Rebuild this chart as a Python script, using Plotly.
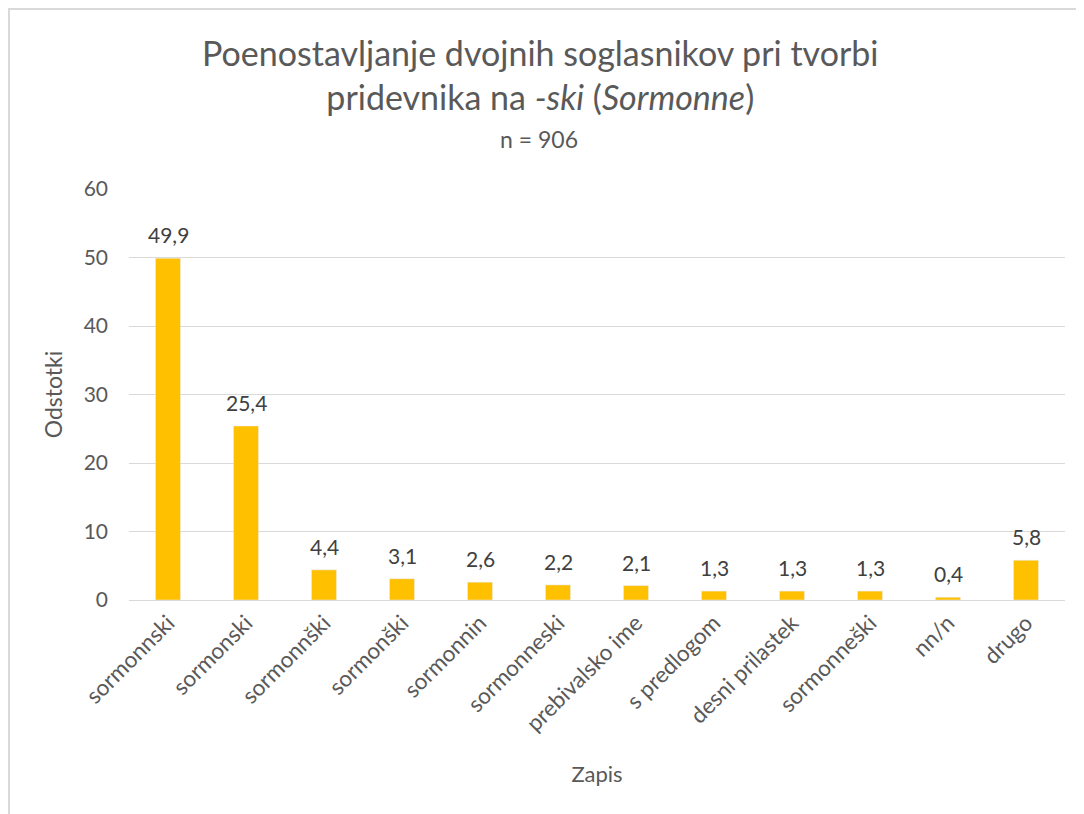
import plotly.graph_objects as go

categories = ["sormonnski", "sormonski", "sormonnški", "sormonški", "sormonnin",
              "sormonneski", "prebivalsko ime", "s predlogom", "desni prilastek",
              "sormonneški", "nn/n", "drugo"]
values = [49.9, 25.4, 4.4, 3.1, 2.6, 2.2, 2.1, 1.3, 1.3, 1.3, 0.4, 5.8]
labels = [f"{v:.1f}".replace(".", ",") for v in values]
y_ticks = [0, 10, 20, 30, 40, 50, 60]

# page body has an 8px margin; work in reference pixel coords minus 8
OFF = 8
W, H = 1084 - OFF, 814 - OFF
L, R, T, B = 129 - OFF, 19, 189 - OFF, 814 - 600
pw, ph = W - L - R, H - T - B

def px(x):
    return (x - OFF - L) / pw

def py(y):
    return (H - B - (y - OFF)) / ph

FONT = "Lato, Carlito, Calibri, sans-serif"
GREY = "#595959"

fig = go.Figure(go.Bar(
    x=categories, y=values,
    marker=dict(color="#FFC000"), cliponaxis=False, hoverinfo="skip",
))

data_labels = [
    dict(x=c, y=v, text=t, xref="x", yref="y", showarrow=False,
         xanchor="center", yanchor="bottom", yshift=9,
         font=dict(family=FONT, size=21, color="#404040"))
    for c, v, t in zip(categories, values, labels)
]

fig.update_layout(
    width=W, height=H,
    margin=dict(l=L, r=R, t=T, b=B, autoexpand=False),
    paper_bgcolor="white", plot_bgcolor="white",
    bargap=0.68, showlegend=False,
    font=dict(family=FONT, color=GREY),
    xaxis=dict(
        tickangle=-45, tickfont=dict(size=22.5, color=GREY),
        showgrid=False, showline=True, linecolor="#d9d9d9", linewidth=1,
        ticks="", title=dict(text="Zapis", font=dict(size=22, color=GREY), standoff=31),
    ),
    yaxis=dict(
        range=[0, 60], tickvals=y_ticks, tickfont=dict(size=21, color=GREY),
        showgrid=True, gridcolor="#d9d9d9", gridwidth=1, zeroline=False,
        showline=False, ticks="", ticklabelstandoff=20,
        title=dict(text="Odstotki", font=dict(size=23, color=GREY), standoff=14),
    ),
    annotations=data_labels + [
        dict(text="Poenostavljanje dvojnih soglasnikov pri tvorbi<br>pridevnika na <i>-ski</i> (<i>Sormonne</i>)",
             xref="paper", yref="paper", x=px(540), y=py(75), xanchor="center", yanchor="middle",
             showarrow=False, font=dict(family=FONT, size=34, color=GREY)),
        dict(text="n = 906", xref="paper", yref="paper", x=px(539), y=py(139),
             xanchor="center", yanchor="middle", showarrow=False,
             font=dict(family=FONT, size=23, color=GREY)),
    ],
    shapes=[
        dict(type="line", xref="paper", yref="paper", x0=px(8), x1=px(1100), y0=py(9), y1=py(9),
             line=dict(color="#d9d9d9", width=2)),
        dict(type="line", xref="paper", yref="paper", x0=px(9), x1=px(9), y0=py(8), y1=py(830),
             line=dict(color="#d9d9d9", width=2)),
    ],
)

fig.write_html("out.html")
